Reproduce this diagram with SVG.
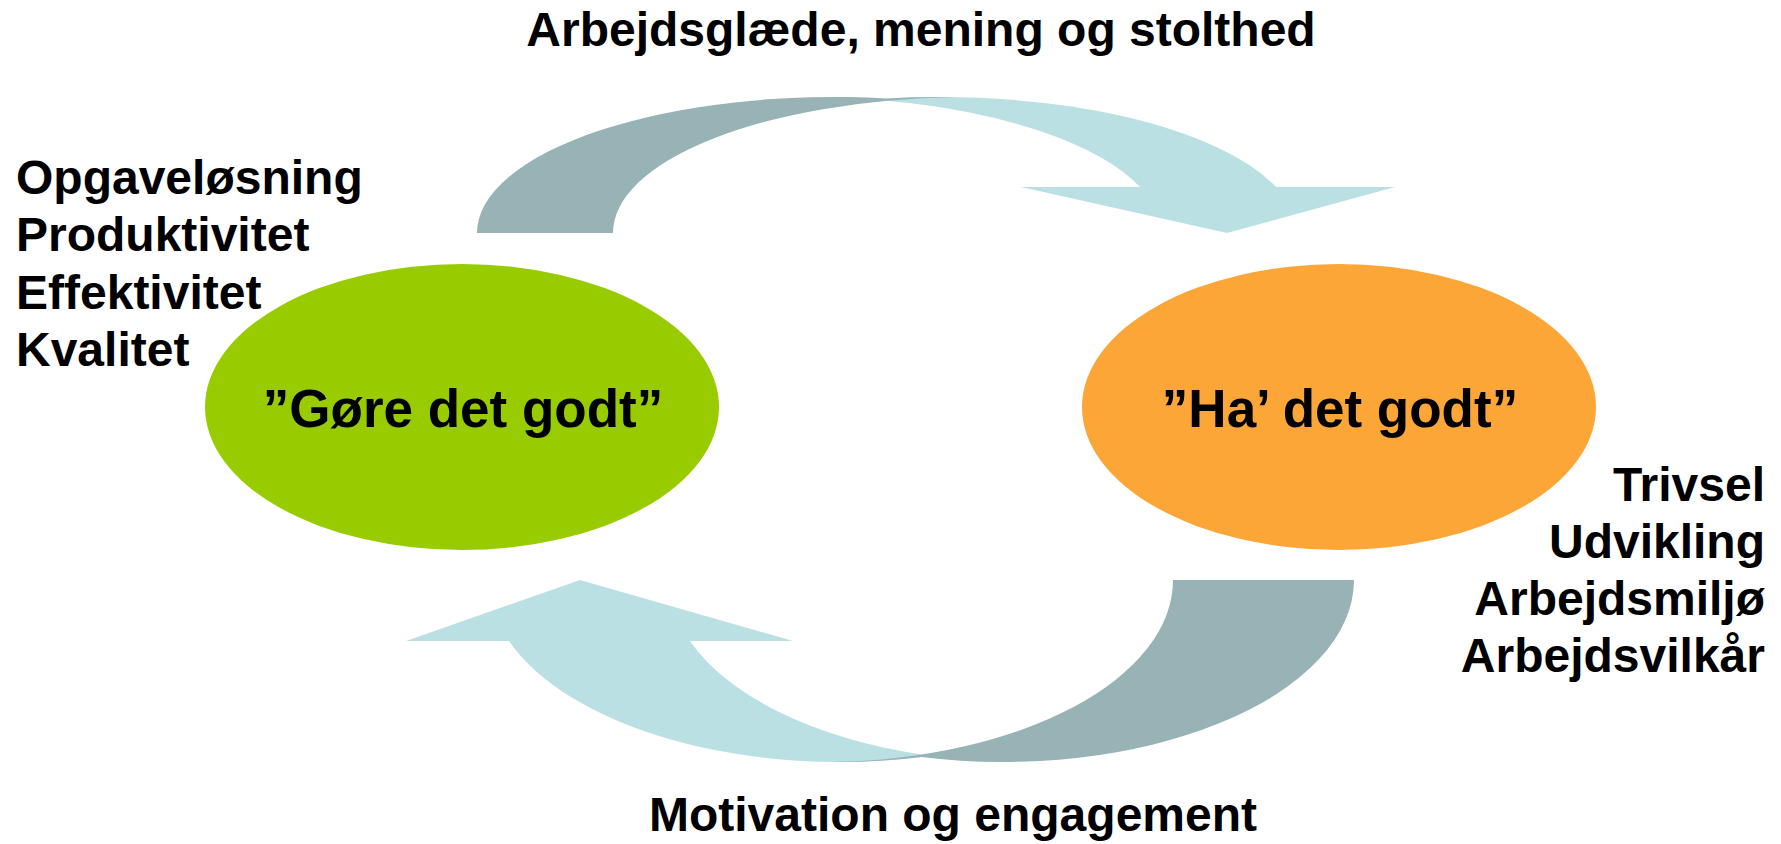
<svg xmlns="http://www.w3.org/2000/svg" width="1781" height="844" viewBox="0 0 1781 844">
  <style>
    .t { font-family: "Liberation Sans", Arial, sans-serif; font-weight: bold; fill: #000; }
    .lbl { font-size: 48px; }
    .big { font-size: 53px; }
    .light { fill: #BBE0E3; }
    .dark { fill: #97B3B6; }
  </style>
  <rect width="1781" height="844" fill="#ffffff"/>

  <g id="connectors">
    <g id="arrow-top">
      <path class="light" d="M 1021,187 L 1140,187 A 358 136 0 0 0 887,100.8 L 887,98.4 A 358 136 0 0 1 1276,187 L 1395,187 L 1227,233 Z"/>
      <path class="dark" d="M 477,233 A 358 136 0 0 1 887,98.4 A 358 136 0 0 1 955,97.1 A 358 136 0 0 0 613,233 Z"/>
    </g>
    <g id="arrow-bottom">
      <path class="light" d="M 406,641 L 580,580 L 793,641 L 690,641 A 351 182 0 0 0 921.5,754.5 L 921.5,757 A 351 182 0 0 1 509,641 Z"/>
      <path class="dark" d="M 1173,580 L 1354,580 A 351 182 0 0 1 921.5,757 A 351 182 0 0 1 831,762 A 351 182 0 0 0 1173,580 Z"/>
    </g>
  </g>

  <g id="node-gore">
    <ellipse cx="462" cy="407" rx="257" ry="143" fill="#99CC00"/>
    <text class="t big" x="463" y="427" text-anchor="middle">”Gøre det godt”</text>
  </g>

  <g id="node-ha">
    <ellipse cx="1339" cy="407" rx="257" ry="143" fill="#FCA637"/>
    <text class="t big" x="1340" y="427" text-anchor="middle">”Ha’ det godt”</text>
  </g>

  <g id="label-top">
    <text class="t lbl" x="921" y="46" text-anchor="middle">Arbejdsglæde, mening og stolthed</text>
  </g>

  <g id="label-bottom">
    <text class="t lbl" x="953" y="831" text-anchor="middle">Motivation og engagement</text>
  </g>

  <g id="label-left">
    <text class="t lbl" x="16" y="194">Opgaveløsning</text>
    <text class="t lbl" x="16" y="251">Produktivitet</text>
    <text class="t lbl" x="16" y="309">Effektivitet</text>
    <text class="t lbl" x="16" y="366">Kvalitet</text>
  </g>

  <g id="label-right">
    <text class="t lbl" x="1765" y="501" text-anchor="end">Trivsel</text>
    <text class="t lbl" x="1765" y="558" text-anchor="end">Udvikling</text>
    <text class="t lbl" x="1765" y="615" text-anchor="end">Arbejdsmiljø</text>
    <text class="t lbl" x="1765" y="672" text-anchor="end">Arbejdsvilkår</text>
  </g>
</svg>
